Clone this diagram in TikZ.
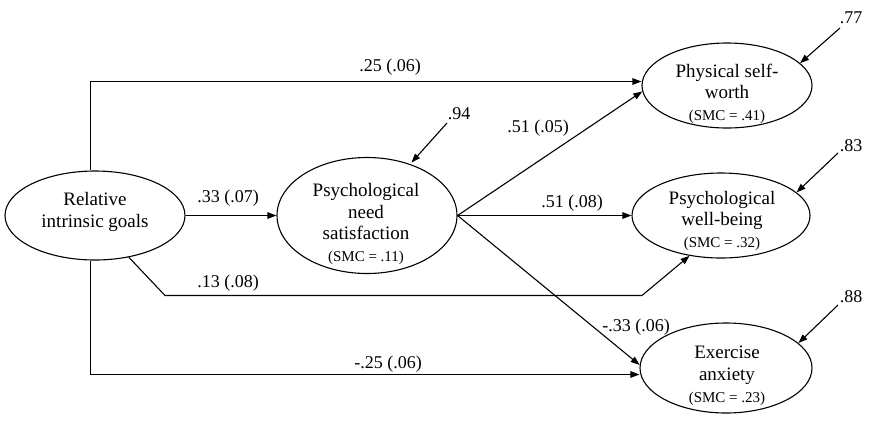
\documentclass[tikz,border=0pt]{standalone}
\usepackage{fontspec}
\setmainfont{Liberation Serif}
\newfontfamily\tnr{Liberation Serif}
\usetikzlibrary{arrows.meta,shapes.geometric}
\newcommand\smcf{\fontsize{15}{17}\selectfont}
\begin{document}
\tnr
\begin{tikzpicture}[x=1pt,y=-1pt,
  latent/.style={draw, ellipse, line width=1.1pt, inner sep=0pt},
  txt/.style={align=center, font=\tnr\fontsize{19}{21.5}\selectfont, inner sep=0pt},
  coef/.style={font=\tnr\fontsize{18}{20}\selectfont, inner sep=0pt},
  conn/.style={line width=1.1pt, -{Triangle[length=9pt,width=6.5pt]}},
]
\fill[white] (0,0) rectangle (869,429);
\useasboundingbox (0,0) rectangle (869,429);

% latent variables
\node[latent, minimum width=180pt, minimum height=89pt] (A) at (95,215.5) {};
\node[latent, minimum width=180pt, minimum height=116pt] (B) at (367,215.5) {};
\node[latent, minimum width=170pt, minimum height=85pt] (C) at (727,85.5) {};
\node[latent, minimum width=178pt, minimum height=85pt] (D) at (721,215.5) {};
\node[latent, minimum width=172pt, minimum height=90pt] (E) at (726,368) {};

% texts
\node[txt] (tA) at (95,212) {Relative\\intrinsic goals};
\node[txt] (tB) at (366,224) {Psychological\\need\\satisfaction\\[0.5pt]{\smcf (SMC = .11)}};
\node[txt] (tC) at (727,94) {Physical self-\\worth\\[0.5pt]{\smcf (SMC = .41)}};
\node[txt] (tD) at (722,221) {Psychological\\well-being\\[0.5pt]{\smcf (SMC = .32)}};
\node[txt] (tE) at (727,376) {Exercise\\anxiety\\[0.5pt]{\smcf (SMC = .23)}};

% paths
\draw[conn] ([xshift=-4.5pt]A.north) |- ([yshift=4pt]C.west);
\draw[conn] (A.east) -- (B.west);
\draw[conn] (B.east) -- (C.184);
\draw[conn] (B.east) -- (B.east -| D.west);
\draw[conn] (B.east) -- (E.178);
\coordinate (k1) at (165,295.5);
\coordinate (k2) at (642,295.5);
\draw[conn] (A.-51.5) -- (k1) -- (k2) -- (D.232);
\draw[conn] ([xshift=-4.5pt]A.south) |- ([yshift=-6.5pt]E.west);

% path coefficients
\node[coef] (l1) at (390,67) {.25 (.06)};
\node[coef] (l2) at (228,198) {.33 (.07)};
\node[coef] (l3) at (538,128) {.51 (.05)};
\node[coef] (l4) at (572,203) {.51 (.08)};
\node[coef] (l5) at (228,283) {.13 (.08)};
\node[coef] (l6) at (636,327) {-.33 (.06)};
\node[coef] (l7) at (388,364) {-.25 (.06)};

% residuals
\coordinate (eB) at (447,123);
\coordinate (eC) at (840,28);
\coordinate (eD) at (838,153);
\coordinate (eE) at (838,305);
\draw[conn, shorten >=2pt] (eB) -- (B.50);
\draw[conn] (eC) -- (C.17);
\draw[conn] (eD) -- (D.17);
\draw[conn] (eE) -- (E.19);
\node[coef] (rB) at (459,114) {.94};
\node[coef] (rC) at (851,18) {.77};
\node[coef] (rD) at (851,146) {.83};
\node[coef] (rE) at (851,297) {.88};
\end{tikzpicture}
\end{document}
